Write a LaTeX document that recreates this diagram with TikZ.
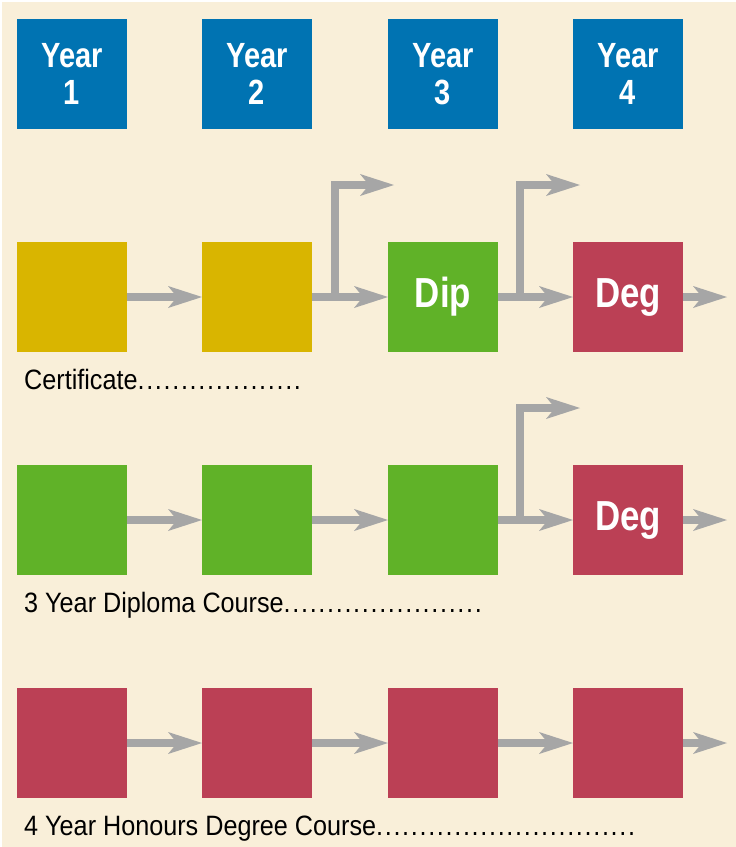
\documentclass[tikz,border=0pt]{standalone}
\usepackage{xcolor}
\usepackage{fontspec}
\setmainfont{Liberation Sans}
\newfontfamily\boxfont[FakeStretch=0.83]{Liberation Sans Bold}
\newfontfamily\labelfont[FakeStretch=0.9]{Liberation Sans}
\usepackage{tikz}
\usetikzlibrary{arrows.meta}

\definecolor{bgcream}{RGB}{249,239,217}
\definecolor{yearblue}{RGB}{0,115,178}
\definecolor{certyellow}{RGB}{217,181,0}
\definecolor{dipgreen}{RGB}{96,178,40}
\definecolor{degred}{RGB}{187,64,85}
\definecolor{arrowgray}{RGB}{166,166,166}

\begin{document}
\begin{tikzpicture}[x=1pt, y=-1pt,
				box/.style={minimum width=110pt, minimum height=110pt, inner sep=0pt, outer sep=0pt, text=white, align=center},
				yearbox/.style={box, fill=yearblue, font=\boxfont\fontsize{35}{37}\selectfont},
				big/.style={font=\boxfont\fontsize{42}{44}\selectfont},
				flow/.style={draw=arrowgray, line width=8pt, line join=miter,
					-{Stealth[length=34pt, width=22pt, inset=9pt, line width=0pt]}},
				course/.style={anchor=base west, inner sep=0pt, font=\labelfont\fontsize{28}{30}\selectfont}]
				\useasboundingbox (0,0) rectangle (736,847);
				\fill[white] (0,0) rectangle (736,847);
				\fill[bgcream] (2,2) rectangle (736,847);
				% years
				\node at (72,74) (y1) [yearbox] {Year\\1};
				\node at (257,74) (y2) [yearbox] {Year\\2};
				\node at (443,74) (y3) [yearbox] {Year\\3};
				\node at (628,74) (y4) [yearbox] {Year\\4};
				% certificate route
				\node at (72,297) (c1) [box, fill=certyellow] {};
				\node at (257,297) (c2) [box, fill=certyellow] {};
				\node at (443,297) (c3) [box, big, fill=dipgreen] {Dip};
				\node at (628,297) (c4) [box, big, fill=degred] {Deg};
				\node at (24,389) (lcert) [course] {Certificate{\addfontfeature{LetterSpace=6}...................}};
				% diploma route
				\node at (72,520) (d1) [box, fill=dipgreen] {};
				\node at (257,520) (d2) [box, fill=dipgreen] {};
				\node at (443,520) (d3) [box, fill=dipgreen] {};
				\node at (628,520) (d4) [box, big, fill=degred] {Deg};
				\node at (24,612) (ldip) [course] {3 Year Diploma Course{\addfontfeature{LetterSpace=6}.......................}};
				% honours route
				\node at (72,743) (h1) [box, fill=degred] {};
				\node at (257,743) (h2) [box, fill=degred] {};
				\node at (443,743) (h3) [box, fill=degred] {};
				\node at (628,743) (h4) [box, fill=degred] {};
				\node at (24,835) (lhon) [course] {4 Year Honours Degree Course{\addfontfeature{LetterSpace=6}..............................}};
				% branch points and free ends
				\coordinate (b1) at (335,297);
				\coordinate (t1) at (394,185);
				\coordinate (b2) at (520,297);
				\coordinate (t2) at (580,185);
				\coordinate (b3) at (520,520);
				\coordinate (t3) at (580,408);
				\coordinate (e1) at (727,297);
				\coordinate (e2) at (727,520);
				\coordinate (e3) at (727,743);
				% arrows
				\draw[flow] (c1) -- (c2);
				\draw[flow] (c2) -- (c3);
				\draw[flow] (c3) -- (c4);
				\draw[flow] (c4) -- (e1);
				\draw[flow] (b1) |- (t1);
				\draw[flow] (b2) |- (t2);
				\draw[flow] (d1) -- (d2);
				\draw[flow] (d2) -- (d3);
				\draw[flow] (d3) -- (d4);
				\draw[flow] (d4) -- (e2);
				\draw[flow] (b3) |- (t3);
				\draw[flow] (h1) -- (h2);
				\draw[flow] (h2) -- (h3);
				\draw[flow] (h3) -- (h4);
				\draw[flow] (h4) -- (e3);
			\end{tikzpicture}
\end{document}
